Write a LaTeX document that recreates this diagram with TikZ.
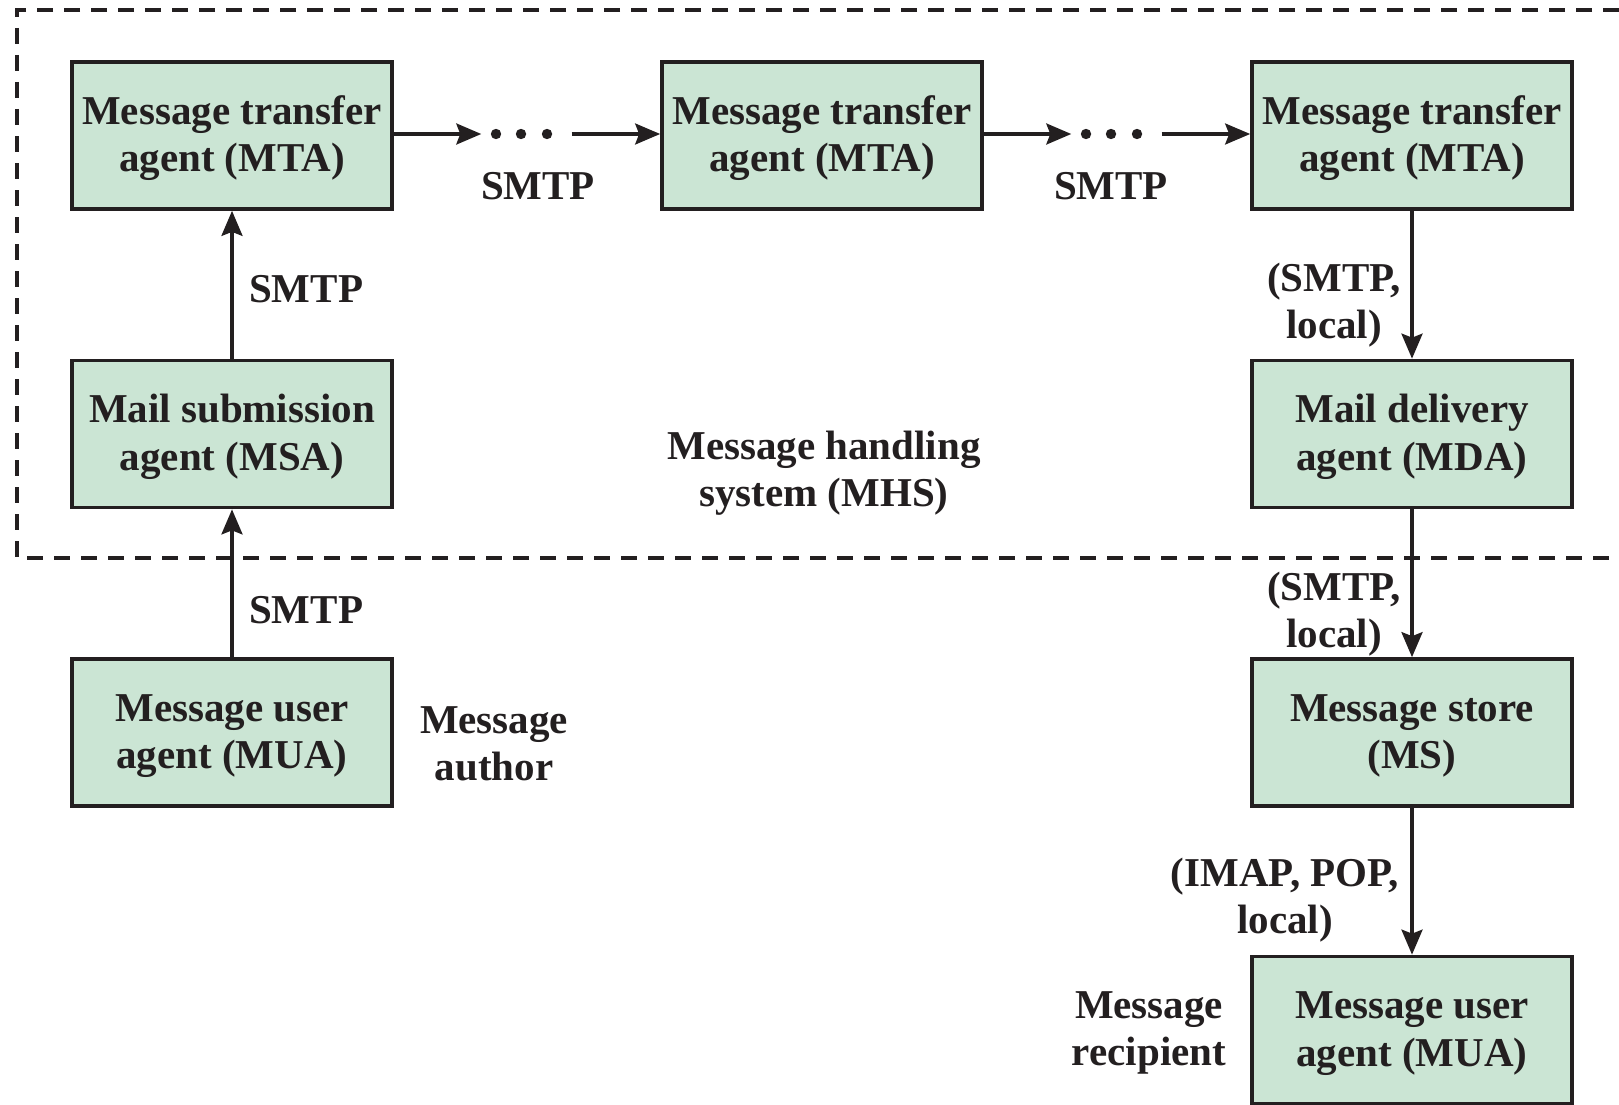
\documentclass[tikz,border=0pt]{standalone}
\usepackage{fontspec}
\setmainfont{Liberation Serif}
\usetikzlibrary{arrows.meta}
\definecolor{boxfill}{RGB}{203,229,212}
\definecolor{ink}{RGB}{35,31,32}
\newcommand\topstrut{\rule{0pt}{34pt}}
\begin{document}
\begin{tikzpicture}[x=1pt,y=-1pt,
  agent/.style={draw=ink, line width=3.7pt, fill=boxfill, minimum width=320pt, minimum height=147pt,
    align=center, text=ink, font=\bfseries\fontsize{41}{47.5}\selectfont, inner sep=0pt},
  lbl/.style={align=center, text=ink, font=\bfseries\fontsize{41}{47.5}\selectfont, inner sep=0pt},
  conn/.style={draw=ink, line width=3.3pt, -{Stealth[length=25pt,width=21pt,inset=4pt]}},
  dotgap/.style={minimum width=90pt, minimum height=10pt, inner sep=0pt}]
\useasboundingbox (0,0) rectangle (1619,1105);
\clip (0,0) rectangle (1619,1105);
% dashed boundary of the MHS
\draw[ink, line width=4pt, dash pattern=on 16pt off 11pt] (1700,10) -- (17,10) -- (17,558) -- (1700,558);
% nodes
\node[agent] (mta1) at (232,135.5) {\topstrut Message transfer\\agent (MTA)};
\node[agent] (mta2) at (822,135.5) {\topstrut Message transfer\\agent (MTA)};
\node[agent] (mta3) at (1412,135.5) {\topstrut Message transfer\\agent (MTA)};
\node[agent] (msa) at (232,434) {\topstrut Mail submission\\agent (MSA)};
\node[agent] (mda) at (1412,434) {\topstrut Mail delivery\\agent (MDA)};
\node[agent] (muaA) at (232,732.5) {\topstrut Message user\\agent (MUA)};
\node[agent] (ms) at (1412,732.5) {\topstrut Message store\\(MS)};
\node[agent] (muaB) at (1412,1030) {\topstrut Message user\\agent (MUA)};
% dot groups
\node[dotgap] (dots1) at (526.5,134) {};
\node[dotgap] (dots2) at (1116.5,134) {};
\foreach \x in {496,521,547} \fill[ink] (\x,134) circle (5.2);
\foreach \x in {1086,1111,1137} \fill[ink] (\x,134) circle (5.2);
% connectors
\draw[conn] (mta1.east |- dots1) -- (dots1.west);
\draw[conn] (dots1.east) -- (mta2.west |- dots1);
\draw[conn] (mta2.east |- dots2) -- (dots2.west);
\draw[conn] (dots2.east) -- (mta3.west |- dots2);
\draw[conn] (msa.north) -- (mta1.south);
\draw[conn] (muaA.north) -- (msa.south);
\draw[conn] (mta3.south) -- (mda.north);
\draw[conn] (mda.south) -- (ms.north);
\draw[conn] (ms.south) -- (muaB.north);
% labels
\node[lbl] (l1) at (538,186) {SMTP};
\node[lbl] (l2) at (1111,186) {SMTP};
\node[lbl, anchor=west] (l3) at (249,289) {SMTP};
\node[lbl, anchor=west] (l4) at (249,610) {SMTP};
\node[lbl] (l5) at (1334,305) {(SMTP,\\local)};
\node[lbl] (l6) at (1334,614) {(SMTP,\\local)};
\node[lbl] (l7) at (1285,900) {(IMAP, POP,\\local)};
\node[lbl] (mhs) at (824,473) {Message handling\\system (MHS)};
\node[lbl] (author) at (494,744) {Message\\author};
\node[lbl] (recip) at (1149,1033) {Message\\recipient};
\end{tikzpicture}
\end{document}
